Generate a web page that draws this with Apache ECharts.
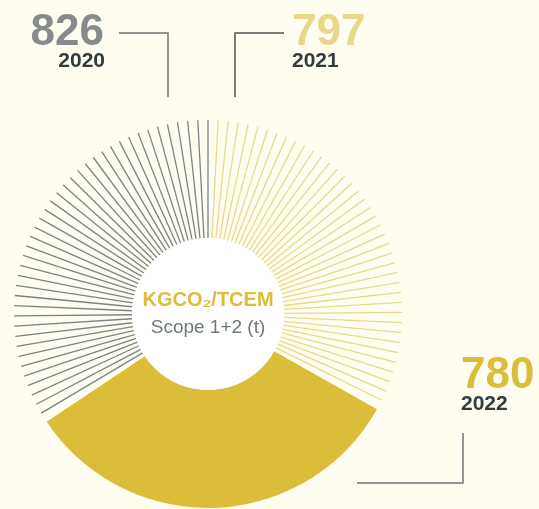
<!DOCTYPE html>
<html>
<head>
<meta charset="utf-8">
<script src="https://cdn.jsdelivr.net/npm/echarts@6/dist/echarts.min.js"></script>
<style>
  html, body { margin: 0; padding: 0; background: #fefdf0; }
  #chart { width: 539px; height: 509px; }
</style>
</head>
<body>
<div id="chart"></div>
<script>
// data
const years = ["2020", "2021", "2022"];
const values = [826, 797, 780];
const centerTitle = "KGCO₂/TCEM";
const centerSub = "Scope 1+2 (t)";

const C = [208, 314];
const R_IN = 76;
const R_OUT = 194;
const STEP = 3; // degrees between hatch lines

const total = values.reduce((a, b) => a + b, 0);
const ang = values.map((v) => (v / total) * 360);

const chart = echarts.init(document.getElementById("chart"));

function hatch(start, end, color, width) {
  return {
    type: "gauge",
    center: C,
    radius: R_OUT,
    startAngle: start,
    endAngle: end,
    min: 0,
    max: 1,
    splitNumber: Math.round(Math.abs(start - end) / STEP),
    silent: true,
    z: 2,
    axisLine: { show: false, lineStyle: { width: 0 } },
    progress: { show: false },
    pointer: { show: false },
    anchor: { show: false },
    axisTick: { show: false },
    axisLabel: { show: false },
    title: { show: false },
    detail: { show: false },
    splitLine: {
      show: true,
      length: R_OUT - R_IN,
      distance: 0,
      lineStyle: { color: color, width: width },
    },
    data: [{ value: 0 }],
  };
}

// annotation texts built from the arrays
function note(i, x, y, align, numColor) {
  return [
    {
      type: "text",
      x: x,
      y: y,
      style: {
        text: String(values[i]),
        font: "bold 44px 'Liberation Sans', Arial, sans-serif",
        fill: numColor,
        align: align,
        verticalAlign: "top",
      },
    },
    {
      type: "text",
      x: x + (align === "right" ? 1 : 0),
      y: y + 40,
      style: {
        text: years[i],
        font: "bold 21px 'Liberation Sans', Arial, sans-serif",
        fill: "#323b40",
        align: align,
        verticalAlign: "top",
      },
    },
  ];
}

chart.setOption({
  backgroundColor: "#fefdf0",
  animation: false,
  series: [
    // 2020 grey hatch
    hatch(90 + ang[0] - STEP, 90, "#7b8488", 1.3),
    // 2021 yellow hatch
    hatch(90 - STEP, 90 - ang[1] + STEP, "#ead88c", 1.3),
    // 2022 solid sector
    {
      type: "pie",
      center: C,
      radius: [R_IN, R_OUT],
      startAngle: 90,
      clockwise: true,
      silent: true,
      z: 2,
      label: { show: false },
      labelLine: { show: false },
      data: [
        { name: years[1], value: values[1], itemStyle: { color: "rgba(0,0,0,0)" } },
        { name: years[2], value: values[2], itemStyle: { color: "#dcbd3a" } },
        { name: years[0], value: values[0], itemStyle: { color: "rgba(0,0,0,0)" } },
      ],
    },
    // white disc with centre label
    {
      type: "pie",
      center: C,
      radius: [0, R_IN],
      silent: true,
      z: 3,
      itemStyle: { color: "#ffffff" },
      label: {
        show: true,
        position: "center",
        formatter: "{a|" + centerTitle + "}\n{b|" + centerSub + "}",
        rich: {
          a: {
            fontFamily: "Liberation Sans, Arial, sans-serif",
            fontWeight: "bold",
            fontSize: 20,
            color: "#dcbd3a",
            lineHeight: 28,
          },
          b: {
            fontFamily: "Liberation Sans, Arial, sans-serif",
            fontSize: 19,
            color: "#6f787c",
            lineHeight: 28,
          },
        },
      },
      labelLine: { show: false },
      data: [{ value: 1, name: "" }],
    },
  ],
  graphic: [
    ...note(0, 104, 11, "right", "#868b8e"),
    ...note(1, 292, 11, "left", "#e9d78a"),
    ...note(2, 461, 354, "left", "#dcbd3a"),
    {
      type: "polyline",
      shape: { points: [[119, 33], [168, 33], [168, 97]] },
      style: { stroke: "#6b7377", lineWidth: 1.5, fill: null },
    },
    {
      type: "polyline",
      shape: { points: [[284, 33], [235, 33], [235, 97]] },
      style: { stroke: "#4e565a", lineWidth: 1.5, fill: null },
    },
    {
      type: "polyline",
      shape: { points: [[463, 433], [463, 483], [357, 483]] },
      style: { stroke: "#6b7377", lineWidth: 1.5, fill: null },
    },
  ],
});
</script>
</body>
</html>
